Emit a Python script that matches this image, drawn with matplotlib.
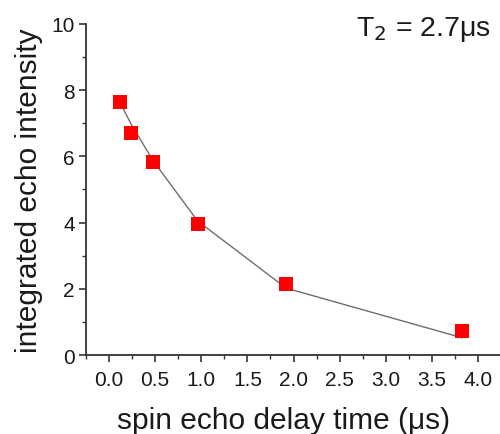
#!/usr/bin/env python3

import matplotlib
matplotlib.use('Agg')
import matplotlib.pyplot as plt
from matplotlib.ticker import MultipleLocator

# measured echo intensities
delayTimes = [0.12, 0.24, 0.48, 0.96, 1.92, 3.83]
echoIntensity = [7.65, 6.70, 5.82, 3.96, 2.14, 0.73]

# decay fit as drawn through the same delay times
fitIntensity = [7.62, 6.97, 5.86, 4.05, 2.02, 0.52]

xTicks = [0.0, 0.5, 1.0, 1.5, 2.0, 2.5, 3.0, 3.5, 4.0]
yTicks = [0, 2, 4, 6, 8, 10]


def graph(filename='out.png'):
    plt.rcParams['font.family'] = ['Liberation Sans', 'DejaVu Sans']

    fig = plt.figure(figsize=(5, 4.35), dpi=100)
    ax1 = fig.add_axes([0.172, 0.1816, 0.83, 0.761])

    ax1.plot(delayTimes, fitIntensity, color='#6e6e6e', linewidth=1.0, zorder=2)
    ax1.plot(delayTimes, echoIntensity, 's', color='#ff0000', markersize=9.5,
             markeredgewidth=0, zorder=3)

    ax1.set_xlim(-0.25, 4.25)
    ax1.set_ylim(0, 10)
    ax1.set_xticks(xTicks)
    ax1.set_xticklabels(['%.1f' % t for t in xTicks])
    ax1.set_yticks(yTicks)
    ax1.xaxis.set_minor_locator(MultipleLocator(0.25))
    ax1.yaxis.set_minor_locator(MultipleLocator(1))

    for side in ['top', 'right']:
        ax1.spines[side].set_visible(False)
    for side in ['left', 'bottom']:
        ax1.spines[side].set_linewidth(1.3)
        ax1.spines[side].set_color('#333333')

    ax1.tick_params(axis='both', which='major', direction='out', length=5,
                    width=1.2, color='#333333', labelsize=15,
                    labelcolor='#1a1a1a', pad=3)
    ax1.tick_params(axis='both', which='minor', direction='out', length=3,
                    width=1.0, color='#333333')
    ax1.tick_params(axis='x', which='major', pad=6)

    ax1.set_xlabel('spin echo delay time (\u03bcs)', fontsize=21.5,
                   color='#1a1a1a', labelpad=9)
    ax1.xaxis.set_label_coords(0.476, -0.155)
    ax1.set_ylabel('integrated echo intensity', fontsize=21.5,
                   color='#1a1a1a', labelpad=6)

    ax1.text(0.975, 0.985, 'T$_2$ = 2.7\u03bcs', transform=ax1.transAxes,
             fontsize=20.5, ha='right', va='center', color='#1a1a1a')

    plt.savefig(filename, dpi=100)


def main():
    graph()


if __name__ == '__main__':
    main()
